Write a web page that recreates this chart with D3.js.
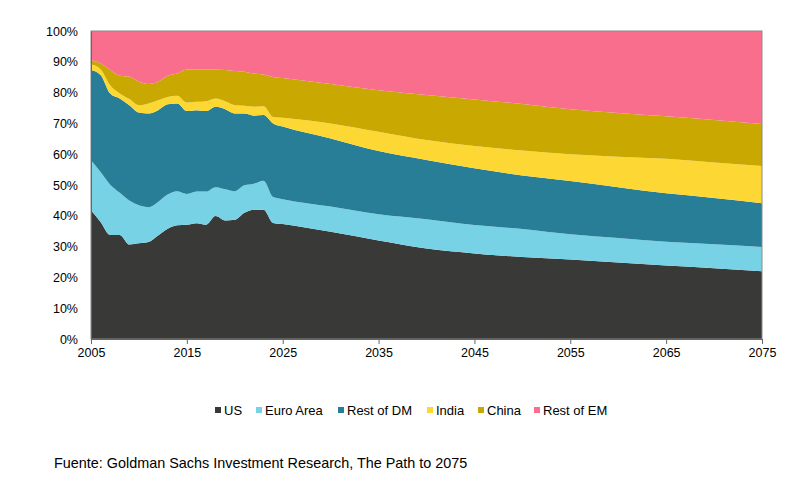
<!doctype html>
<html>
<head>
	<title>path to 2075</title>
	<meta charset="utf-8">
	<script type="text/javascript" src="https://cdn.jsdelivr.net/npm/d3@7"></script>
	<style>
		body { margin: 0; background: #fff; }
		text { font-family: "Liberation Sans", Arial, sans-serif; fill: #000; }
	</style>
</head>
<body>
	<script type="text/javascript">
		// share of world GDP (%)
		var years = [2005, 2006, 2007, 2008, 2009, 2010, 2011, 2012, 2013, 2014, 2015, 2016, 2017, 2018, 2019, 2020, 2021, 2022, 2023, 2024, 2025,
			2030, 2035, 2040, 2045, 2050, 2055, 2060, 2065, 2070, 2075]
		var us = [41.8, 38.0, 33.8, 33.8, 30.7, 31.1, 31.5, 33.6, 35.8, 36.9, 37.1, 37.6, 37.1, 39.9, 38.5, 38.7, 41.0, 42.0, 42.0, 37.7, 37.3,
			34.8, 32.0, 29.4, 27.8, 26.6, 25.8, 24.8, 23.9, 23.0, 22.0]
		var euroArea = [16.2, 16.2, 16.3, 13.7, 14.3, 12.3, 11.3, 10.9, 11.1, 11.1, 10.0, 10.3, 10.8, 9.4, 10.1, 9.3, 8.9, 8.4, 9.4, 8.4, 8.1,
			8.2, 8.5, 9.5, 9.2, 9.1, 8.2, 8.0, 7.7, 7.8, 7.9]
		var restDM = [29.3, 31.5, 29.6, 30.6, 30.9, 30.1, 30.4, 29.8, 29.3, 28.5, 26.9, 26.4, 26.1, 26.1, 26.0, 25.2, 23.3, 22.1, 21.3, 23.9, 23.6,
			22.1, 20.5, 19.2, 18.4, 17.4, 17.3, 16.5, 15.7, 15.0, 14.2]
		var india = [1.9, 1.9, 2.7, 1.6, 2.0, 2.4, 3.3, 3.2, 2.4, 2.5, 2.8, 2.7, 3.2, 2.7, 2.6, 2.7, 2.5, 2.9, 2.9, 2.1, 2.8,
			4.9, 6.3, 6.5, 7.3, 8.1, 8.7, 9.9, 11.2, 11.5, 12.1]
		var china = [1.4, 1.9, 4.9, 5.8, 7.3, 7.6, 6.3, 6.0, 6.9, 7.2, 10.7, 10.5, 10.3, 9.4, 10.1, 11.1, 11.1, 10.8, 10.3, 13.0, 12.9,
			12.8, 13.5, 14.6, 15.1, 15.1, 14.6, 14.2, 13.8, 13.8, 13.6]
		var restEM = [9.4, 10.5, 12.7, 14.5, 14.8, 16.5, 17.2, 16.5, 14.5, 13.8, 12.5, 12.5, 12.5, 12.5, 12.7, 13.0, 13.2, 13.8, 14.1, 14.9, 15.3,
			17.2, 19.2, 20.8, 22.2, 23.7, 25.4, 26.6, 27.7, 28.9, 30.2]

		var names = ["US", "Euro Area", "Rest of DM", "India", "China", "Rest of EM"]
		var colors = ["#393937", "#78d2e5", "#287e97", "#fdd835", "#c9a802", "#f96e8d"]
		var xTicks = [2005, 2015, 2025, 2035, 2045, 2055, 2065, 2075]
		var yTicks = [0, 10, 20, 30, 40, 50, 60, 70, 80, 90, 100]

		var series = [us, euroArea, restDM, india, china, restEM]
		var rows = years.map(function(yr, i) {
			var r = { year: yr }
			names.forEach(function(n, k) { r[n] = series[k][i] })
			return r
		})

		var width = 809
		var height = 483
		var plotLeft = 91, plotRight = 762, plotTop = 31, plotBottom = 339

		var svg = d3.select("body")
					.append("svg")
					.attr("width", width)
					.attr("height", height)

		var x = d3.scaleLinear().domain([2005, 2075]).range([plotLeft, plotRight])
		var y = d3.scaleLinear().domain([0, 100]).range([plotBottom, plotTop])

		var stacked = d3.stack().keys(names)(rows)

		var area = d3.area()
			.curve(d3.curveMonotoneX)
			.x(function(d) { return x(d.data.year) })
			.y0(function(d) { return y(d[0]) })
			.y1(function(d) { return y(d[1]) })

		svg.selectAll("path.layer")
			.data(stacked)
			.enter()
			.append("path")
			.attr("class", "layer")
			.attr("d", area)
			.attr("fill", function(d, i) { return colors[i] })

		// frame
		svg.append("rect")
			.attr("x", plotLeft)
			.attr("y", plotTop)
			.attr("width", plotRight - plotLeft)
			.attr("height", plotBottom - plotTop)
			.attr("fill", "none")
			.attr("stroke", "#8a8a8a")
			.attr("stroke-width", 1)

		var xAxis = svg.append("g")
			.attr("transform", "translate(0," + plotBottom + ")")
			.call(d3.axisBottom(x).tickValues(xTicks).tickFormat(d3.format("d")).tickSize(5).tickPadding(4))
		xAxis.select(".domain").attr("stroke", "#666")
		xAxis.selectAll("line").attr("stroke", "#666")
		xAxis.selectAll("text").attr("font-size", "12.5px").attr("fill", "#000")

		var yAxis = svg.append("g")
			.attr("transform", "translate(" + plotLeft + ",0)")
			.call(d3.axisLeft(y).tickValues(yTicks).tickFormat(function(d) { return d + "%" }).tickSize(0).tickPadding(13))
		yAxis.select(".domain").attr("stroke", "#666")
		yAxis.selectAll("text").attr("font-size", "12.5px").attr("fill", "#000")

		// legend
		var legendX = [215, 256, 338, 427, 478, 534]
		var legend = svg.selectAll("g.legend")
			.data(names)
			.enter()
			.append("g")
			.attr("class", "legend")
			.attr("transform", function(d, i) { return "translate(" + legendX[i] + ",406)" })
		legend.append("rect")
			.attr("width", 6)
			.attr("height", 6)
			.attr("y", 1)
			.attr("fill", function(d, i) { return colors[i] })
		legend.append("text")
			.attr("x", 9)
			.attr("y", 9)
			.attr("font-size", "13px")
			.text(function(d) { return d })

		svg.append("text")
			.attr("x", 54)
			.attr("y", 468)
			.attr("font-size", "14.4px")
			.text("Fuente: Goldman Sachs Investment Research, The Path to 2075")
	</script>
</body>
</html>
